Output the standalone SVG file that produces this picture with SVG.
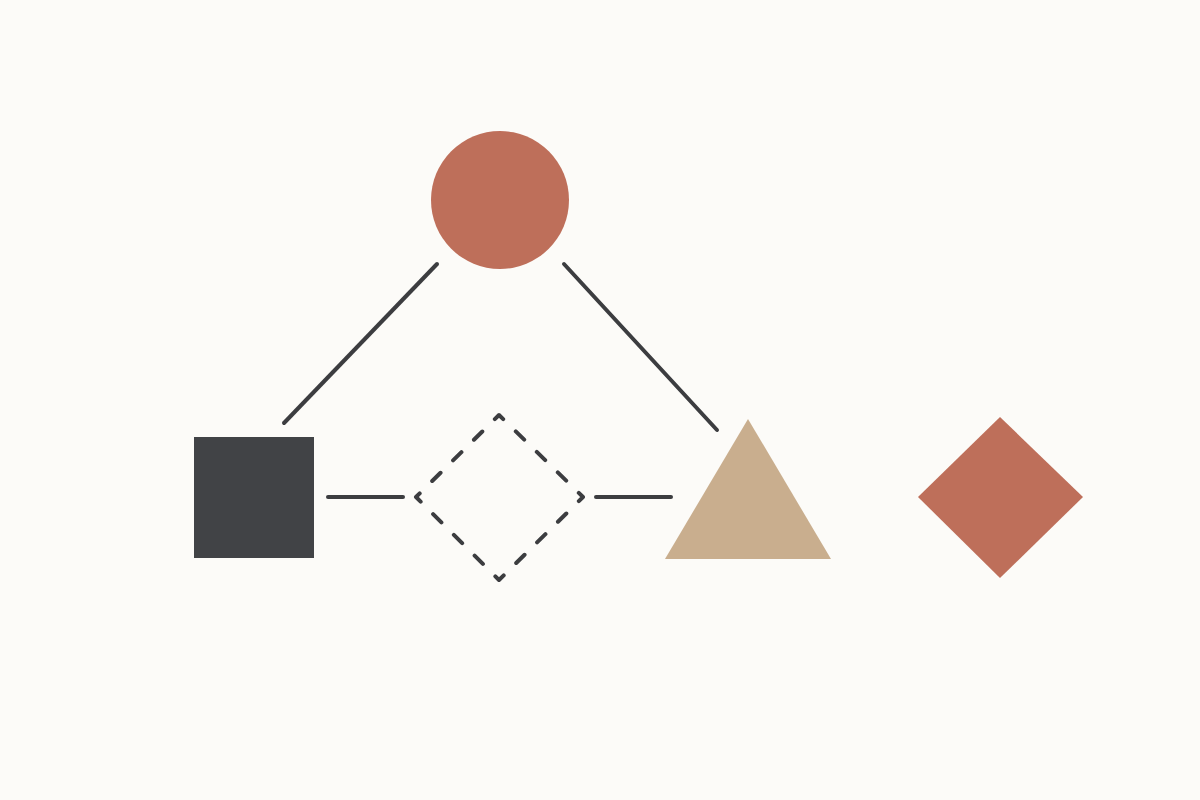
<svg xmlns="http://www.w3.org/2000/svg" width="1200" height="800" viewBox="0 0 1200 800">
<style>
.conn{stroke:#3c3d40;stroke-width:4;stroke-linecap:round;fill:none}
.red{fill:#BE6F5A}
</style>
<rect width="1200" height="800" fill="#FCFBF8"/>
<g id="connectors">
<line class="conn" x1="284" y1="423" x2="437" y2="264"/>
<line class="conn" x1="564" y1="264" x2="717" y2="430"/>
<line class="conn" x1="328" y1="497" x2="403" y2="497"/>
<line class="conn" x1="596" y1="497" x2="671" y2="497"/>
</g>
<g id="circle"><circle class="red" cx="500" cy="200" r="69"/></g>
<g id="square"><rect x="194" y="437" width="120" height="121" fill="#414346"/></g>
<g id="dashed-diamond"><path d="M499,415 L583,497 L499,580 L416,497 Z" pathLength="16" fill="none" stroke="#3c3d40" stroke-width="4" stroke-linecap="round" stroke-linejoin="round" stroke-dasharray="0.4 0.6" stroke-dashoffset="0.2"/></g>
<g id="triangle"><polygon points="748,419 831,559 665,559" fill="#C9AE8E"/></g>
<g id="diamond"><polygon class="red" points="1000,417 1083,497 1000,578 918,497"/></g>
</svg>
